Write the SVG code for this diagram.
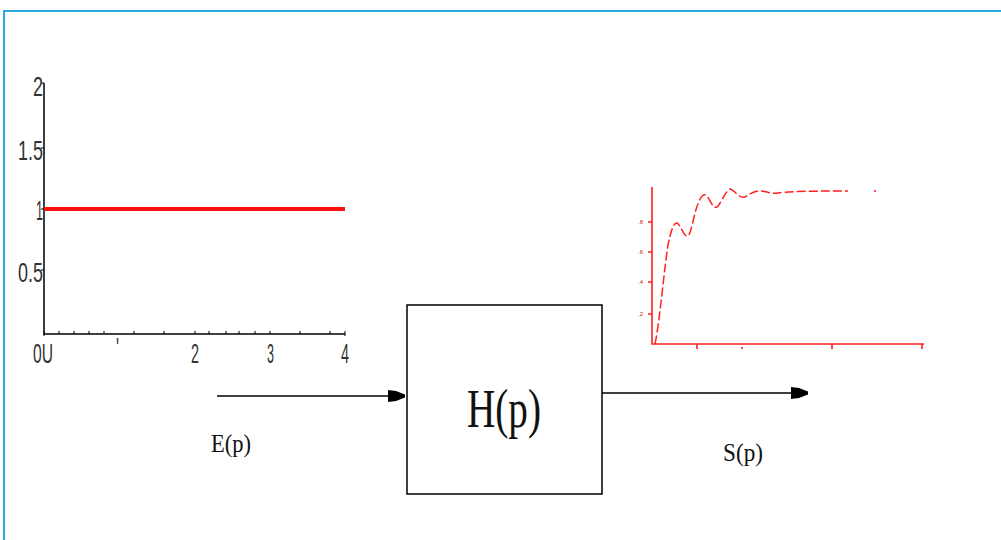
<svg xmlns="http://www.w3.org/2000/svg" width="1001" height="540" viewBox="0 0 1001 540">
<defs>
<style>
.ax{stroke:#000;stroke-width:1.5;fill:none}
.tk{stroke:#000;stroke-width:1;fill:none}
.lbl{font-family:"Liberation Sans",Arial,sans-serif;font-size:28px;fill:#333}
.rax{stroke:#ff2020;stroke-width:1.6;fill:none}
.rlbl{font-family:"Liberation Sans",Arial,sans-serif;font-size:6px;fill:#b22}
.sig{font-family:"Liberation Serif","Times New Roman",serif;fill:#111}
</style>
<path id="ah" d="M-17,-6 L-9,-5 L0,-1.5 L0,1.5 L-9,5 L-17,6 Z" fill="#000"/>
</defs>
<rect width="1001" height="540" fill="#fff"/>
<g id="frame">
<path d="M4,540 L4,11 L1001,11" stroke="#29abe2" stroke-width="2" fill="none"/>
</g>
<g id="input-plot">
<path class="ax" d="M44,83 L44,334 L345,334"/>
<path class="tk" d="M41,83 H44 M41,148 H44 M41,209 H44 M41,270 H44 M44,336 V331 M59,334 V331 M74,334 V331 M89,334 V331 M104,334 V331 M134,334 V331 M164,334 V331 M195,334 V331 M209,334 V331 M226,334 V331 M239,334 V331 M255,334 V331 M270,334 V331 M300,334 V331 M330,334 V331 M345,336 V331"/>
<line x1="44" y1="209" x2="345" y2="209" stroke="#ff1010" stroke-width="4"/>
<text class="lbl" x="33" y="96" textLength="10" lengthAdjust="spacingAndGlyphs">2</text>
<text class="lbl" x="18" y="160" textLength="25" lengthAdjust="spacingAndGlyphs">1.5</text>
<text class="lbl" x="36" y="220" textLength="7" lengthAdjust="spacingAndGlyphs">1</text>
<text class="lbl" x="18" y="282" textLength="25" lengthAdjust="spacingAndGlyphs">0.5</text>
<text class="lbl" x="33" y="363" textLength="20" lengthAdjust="spacingAndGlyphs">0U</text>
<text class="lbl" x="116" y="357" font-size="12" textLength="3" lengthAdjust="spacingAndGlyphs">'</text>
<text class="lbl" x="191" y="363" textLength="8" lengthAdjust="spacingAndGlyphs">2</text>
<text class="lbl" x="267" y="363" textLength="7" lengthAdjust="spacingAndGlyphs" fill="#888">3</text>
<text class="lbl" x="341" y="363" textLength="8" lengthAdjust="spacingAndGlyphs">4</text>
</g>
<g id="output-plot">
<path class="rax" d="M652,187 L652,344 L924,344"/>
<path class="rax" stroke-width="1" d="M648,222 H652 M648,252 H652 M648,282 H652 M648,314 H652 M697,344 V349 M832,344 V349 M922,344 V349 M742,347 V349"/>
<text class="rlbl" x="638" y="224">.8</text>
<text class="rlbl" x="638" y="254">.6</text>
<text class="rlbl" x="638" y="284">.4</text>
<text class="rlbl" x="638" y="316">.2</text>
<path d="M655,344 C660,320 664,270 668,245 C671,230 674,222 677,223 C681,225 684,238 688,236 C692,232 694,212 698,204 C701,196 704,193 707,196 C710,200 713,209 717,207 C721,204 725,191 730,189 C735,190 739,199 745,197 C750,194 755,190 762,191 C768,192 772,194 778,193 C790,191 830,191 848,191" stroke="#ff2020" stroke-width="1.5" fill="none" stroke-dasharray="9 3"/>
<line x1="874" y1="191" x2="876" y2="191" stroke="#ff2020" stroke-width="1.5"/>
</g>
<g id="connectors">
<line x1="217" y1="396" x2="392" y2="396" stroke="#000" stroke-width="1.5"/>
<use href="#ah" x="405" y="396"/>
<line x1="602" y1="393" x2="795" y2="393" stroke="#000" stroke-width="1.5"/>
<use href="#ah" x="808" y="393"/>
</g>
<g id="node-H">
<rect x="407" y="305" width="195" height="189" fill="#fff" stroke="#000" stroke-width="1.5"/>
<text class="sig" x="467" y="427" font-size="54" textLength="74" lengthAdjust="spacingAndGlyphs">H(p)</text>
</g>
<g id="label-E">
<text class="sig" x="211" y="452" font-size="26" textLength="40" lengthAdjust="spacingAndGlyphs">E(p)</text>
</g>
<g id="label-S">
<text class="sig" x="723" y="461" font-size="26" textLength="40" lengthAdjust="spacingAndGlyphs">S(p)</text>
</g>
</svg>
